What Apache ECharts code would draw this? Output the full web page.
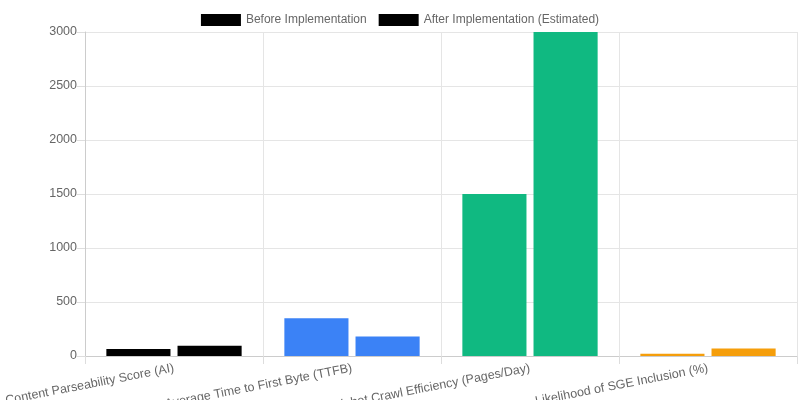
<!DOCTYPE html>
<html>
<head>
<meta charset="utf-8"/>
<script src="https://cdn.jsdelivr.net/npm/echarts@6/dist/echarts.min.js"></script>
<style>html,body{margin:0;padding:0;background:#fff}#c{width:800px;height:400px}</style>
</head>
<body>
<div id="c"></div>
<script>
var categories = ['Content Parseability Score (AI)', 'Average Time to First Byte (TTFB)', 'Googlebot Crawl Efficiency (Pages/Day)', 'Likelihood of SGE Inclusion (%)'];
var beforeValues = [65, 350, 1500, 20];
var afterValues = [95, 180, 3000, 70];
var barColors = ['#000000', '#3b82f6', '#10b981', '#f59e0b'];

function colored(vals) {
  return vals.map(function (v, i) { return { value: v, itemStyle: { color: barColors[i] } }; });
}

var chart = echarts.init(document.getElementById('c'));
chart.setOption({
  animation: false,
  textStyle: { fontFamily: 'Liberation Sans, Arial, sans-serif' },
  legend: {
    top: 9, itemWidth: 40, itemHeight: 12, itemGap: 12, icon: 'rect',
    textStyle: { color: '#666', fontSize: 12 },
    data: [
      { name: 'Before Implementation', itemStyle: { color: '#000' } },
      { name: 'After Implementation (Estimated)', itemStyle: { color: '#000' } }
    ]
  },
  grid: { left: 85, right: 3, top: 32, bottom: 44, containLabel: false, outerBoundsMode: 'none' },
  xAxis: {
    type: 'category', data: categories,
    axisLine: { lineStyle: { color: '#ccc' } },
    axisTick: { show: true, length: 8, lineStyle: { color: '#ddd' } },
    splitLine: { show: true, lineStyle: { color: '#e5e5e5' } },
    axisLabel: { rotate: 11, color: '#666', fontSize: 12.5, interval: 0, margin: 12 }
  },
  yAxis: {
    type: 'value', min: 0, max: 3000, interval: 500,
    axisLine: { show: true, lineStyle: { color: '#ccc' } },
    axisTick: { show: true, length: 8, lineStyle: { color: '#ddd' } },
    splitLine: { lineStyle: { color: '#e5e5e5' } },
    axisLabel: { color: '#666', fontSize: 12.5, formatter: function (v) { return String(v); } }
  },
  series: [
    { name: 'Before Implementation', type: 'bar', data: colored(beforeValues), barCategoryGap: '24%', barGap: '11%' },
    { name: 'After Implementation (Estimated)', type: 'bar', data: colored(afterValues), barCategoryGap: '24%', barGap: '11%' }
  ]
});
</script>
</body>
</html>
